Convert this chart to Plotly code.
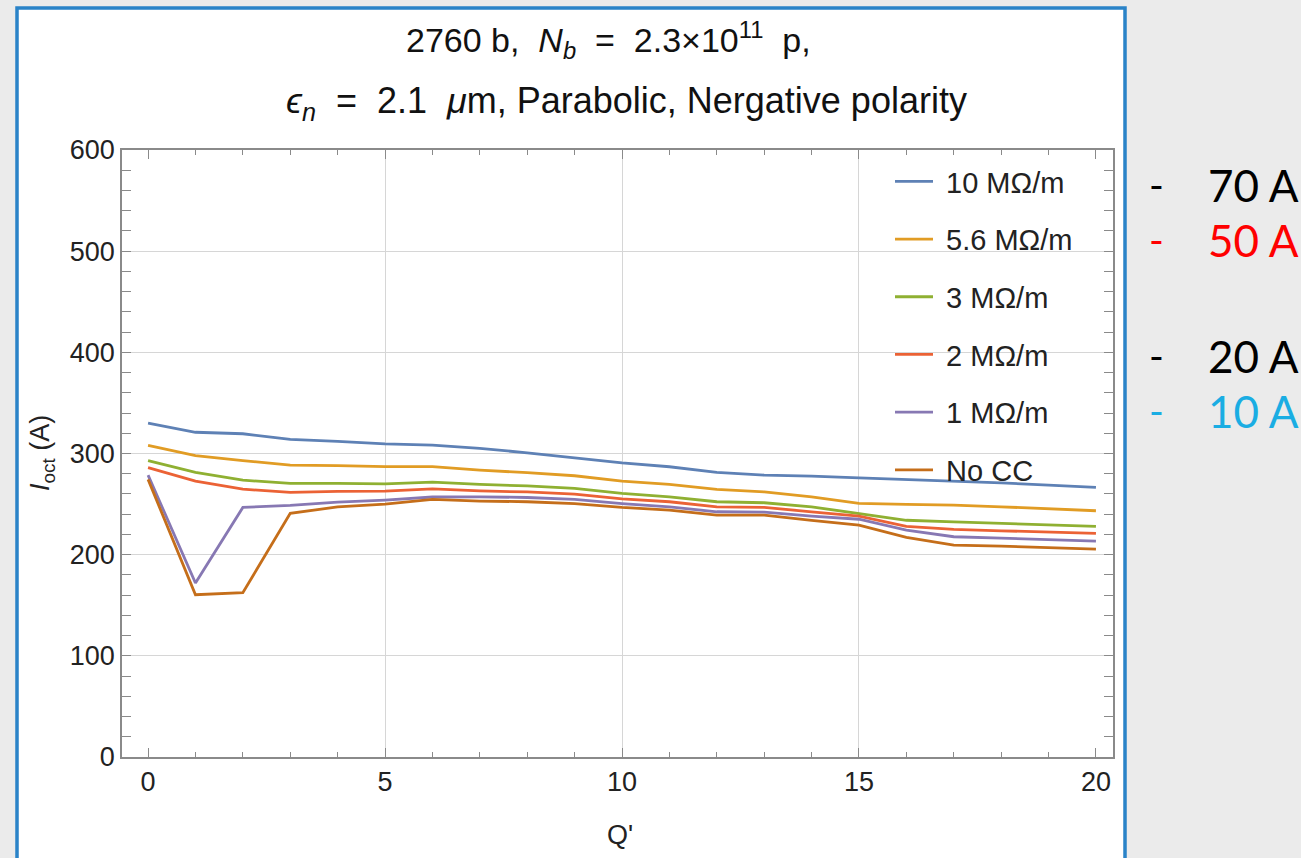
import plotly.graph_objects as go

q_prime = list(range(21))

i_10 = [330, 321, 319.5, 314, 312, 309.6, 308.3, 305, 300.7, 296, 290.8, 286.9, 281.3, 278.6, 277.7, 276, 274.4, 273, 271, 268.8, 266.5]
i_5_6 = [308, 298, 293, 288.5, 288, 287, 287, 283.6, 281, 278, 272.7, 269.4, 264.5, 262, 257.2, 250.7, 249.7, 249, 247.3, 245.7, 243.4]
i_3 = [293, 281.3, 273.7, 270.4, 270.4, 270, 271.7, 269.4, 268, 265.5, 260.5, 257.2, 252.3, 251.3, 247.3, 240.8, 234, 232.5, 231.2, 230, 228]
i_2 = [286, 272.7, 264.8, 261.5, 262.5, 262.8, 265, 263, 262, 259.9, 255.2, 252.3, 247.3, 246.7, 242.4, 238, 228, 225, 223.6, 222.3, 221]
i_1 = [278.6, 172, 246.7, 248.7, 252, 254, 257, 257.2, 256.5, 254.6, 250.5, 247.3, 242.4, 242, 238, 235, 224.3, 217.7, 216.4, 215, 213.4]
i_nocc = [274.4, 160.4, 162.4, 240.8, 247.3, 250, 254.6, 253, 252.3, 250.5, 246.7, 244, 239, 239, 234, 229.2, 217, 209.5, 208.5, 207.2, 205.5]

series_names = ["10 MΩ/m", "5.6 MΩ/m", "3 MΩ/m", "2 MΩ/m", "1 MΩ/m", "No CC"]
series_values = [i_10, i_5_6, i_3, i_2, i_1, i_nocc]
series_colors = ["#5E81B5", "#E19C24", "#8FB032", "#EB6235", "#8778B3", "#C56E1A"]

side_labels = ["70 A", "50 A", "20 A", "10 A"]
side_colors = ["#000000", "#FF0000", "#000000", "#1AADE3"]
side_ypix = [185, 240, 356, 411]

FONT = "Liberation Sans"
W, H = 1301, 858
L, R, T, B = 122, 1113, 150, 757
pw, ph = R - L, B - T


def px(x):
    return (x - L) / pw


def py(y):
    return (B - y) / ph


fig = go.Figure()
for name, vals, col in zip(series_names, series_values, series_colors):
    fig.add_trace(go.Scatter(
        x=q_prime, y=vals, mode="lines", name=" " + name,
        line=dict(color=col, width=2.8), legendgroup=name,
    ))
# helper (empty) trace so the secondary grid axis is created
fig.add_trace(go.Scatter(x=[], y=[], xaxis="x2", showlegend=False, hoverinfo="skip"))

frame_col = "#8a8a8a"
grid_col = "#d6d6d6"
fig.update_layout(
    width=W, height=H,
    margin=dict(l=L, r=W - R, t=T, b=H - B),
    paper_bgcolor="#ebebeb",
    plot_bgcolor="white",
    font=dict(family=FONT, size=26, color="#222222"),
    showlegend=True,
    legend=dict(
        x=px(890), y=py(156), xanchor="left", yanchor="top",
        bgcolor="rgba(0,0,0,0)", font=dict(size=29, family=FONT, color="#222222"),
        tracegroupgap=17, itemwidth=38,
    ),
    xaxis=dict(
        range=[-0.55, 20.36], tickvals=[0, 5, 10, 15, 20], showgrid=False, zeroline=False,
        ticks="inside", ticklen=9, tickcolor=frame_col, tickwidth=1.2,
        showline=True, linecolor=frame_col, linewidth=1.6, mirror="allticks",
        minor=dict(dtick=1, ticks="inside", ticklen=5, tickcolor=frame_col, tickwidth=1.2),
        tickfont=dict(size=27, color="#222222"),
    ),
    xaxis2=dict(
        overlaying="x", matches="x", tickvals=[5, 10, 15], showgrid=True, gridcolor=grid_col,
        gridwidth=1.3, showticklabels=False, ticks="", showline=False, zeroline=False,
    ),
    yaxis=dict(
        range=[0, 600], dtick=100, showgrid=True, gridcolor=grid_col, gridwidth=1.3, zeroline=False,
        ticks="inside", ticklen=9, tickcolor=frame_col, tickwidth=1.2,
        showline=True, linecolor=frame_col, linewidth=1.6, mirror="allticks",
        minor=dict(dtick=20, ticks="inside", ticklen=5, tickcolor=frame_col, tickwidth=1.2, showgrid=False),
        tickfont=dict(size=27, color="#222222"),
    ),
)

# white panel with blue border
fig.add_shape(type="rect", xref="paper", yref="paper",
              x0=px(17), x1=px(1125), y0=py(880), y1=py(8),
              fillcolor="white", line=dict(color="#2A83C8", width=3.5), layer="below")

# title lines
fig.add_annotation(xref="paper", yref="paper", x=px(608), y=py(40), showarrow=False,
                   text="2760 b,  <i>N</i><sub><i>b</i></sub>  =  2.3×10<sup>11</sup>  p,",
                   font=dict(size=34, family=FONT, color="#111111"), xanchor="center", yanchor="middle")
fig.add_annotation(xref="paper", yref="paper", x=px(626), y=py(103), showarrow=False,
                   text="<i>ϵ</i><sub><i>n</i></sub>  =  2.1  <i>μ</i>m, Parabolic, Nergative polarity",
                   font=dict(size=36, family=FONT, color="#111111"), xanchor="center", yanchor="middle")

# axis titles
fig.add_annotation(xref="paper", yref="paper", x=px(620), y=py(835), showarrow=False,
                   text="Q'", font=dict(size=27, family=FONT, color="#222222"),
                   xanchor="center", yanchor="middle")
fig.add_annotation(xref="paper", yref="paper", x=px(42), y=py(453), showarrow=False,
                   text="<i>I</i><sub>oct</sub> (A)", textangle=-90,
                   font=dict(size=27, family=FONT, color="#222222"),
                   xanchor="center", yanchor="middle")

# side notes
for lab, col, yp in zip(side_labels, side_colors, side_ypix):
    fig.add_annotation(xref="paper", yref="paper", x=px(1156), y=py(yp), showarrow=False,
                       text="-", font=dict(size=40, family="Lato", color=col),
                       xanchor="center", yanchor="middle")
    fig.add_annotation(xref="paper", yref="paper", x=px(1206), y=py(yp), showarrow=False,
                       text=lab, font=dict(size=44, family="Lato", color=col),
                       xanchor="left", yanchor="middle")

fig.write_html(
    "out.html",
    config={"displayModeBar": False},
    post_script="document.body.style.margin='0px';document.body.style.overflow='hidden';",
)
